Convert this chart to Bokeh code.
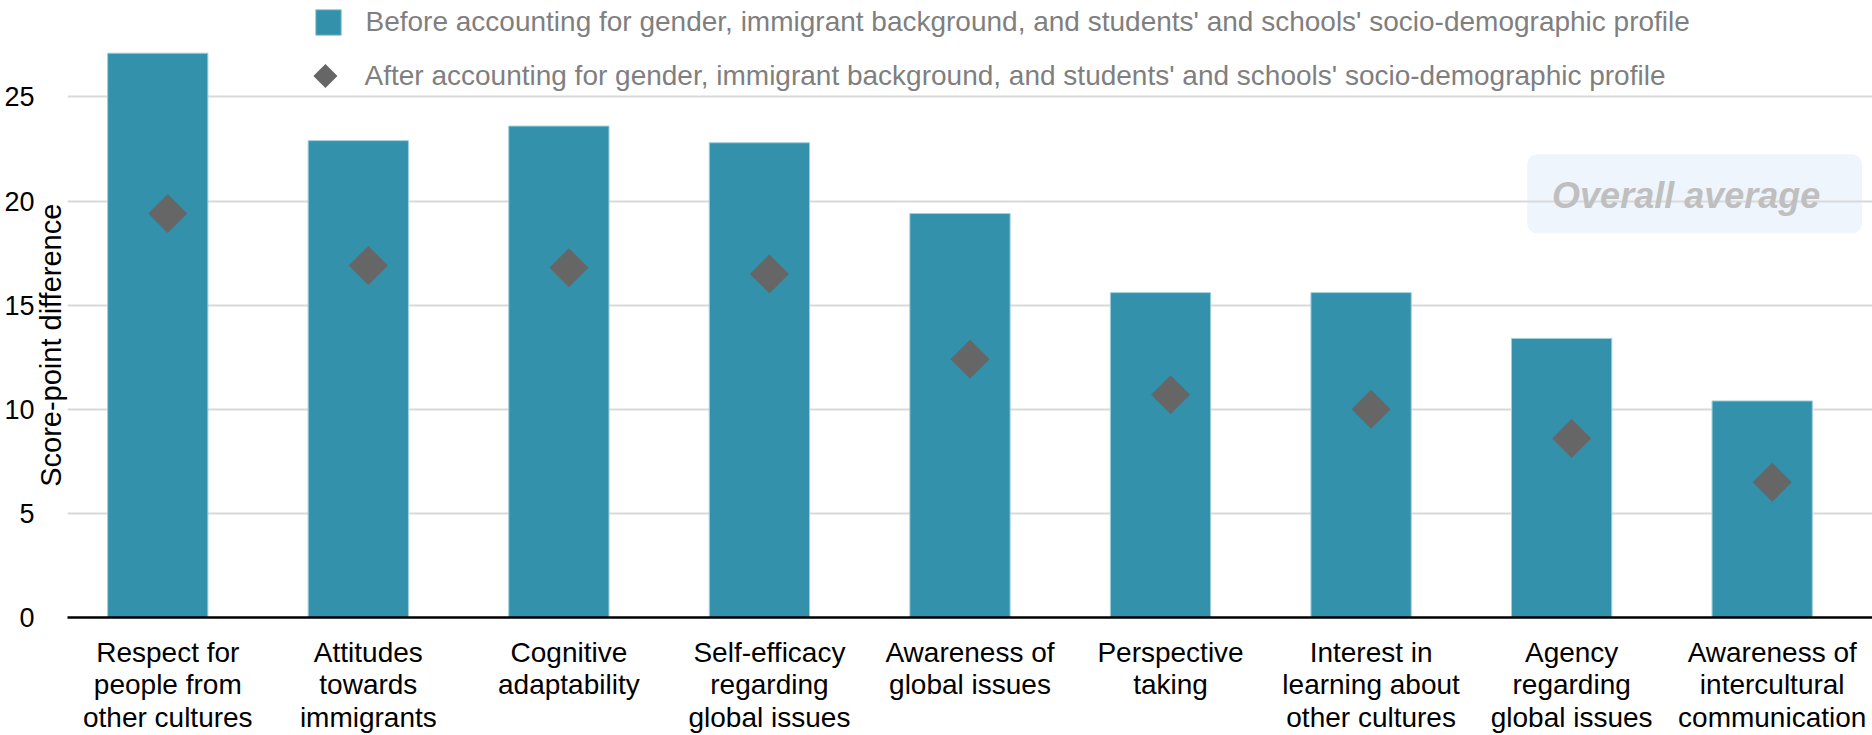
import math
from bokeh.plotting import figure
from bokeh.models import (FactorRange, Range1d, FixedTicker, Legend, LegendItem,
                          Label, BoxAnnotation, ColumnDataSource)
from bokeh.transform import dodge
from bokeh.embed import file_html
from bokeh.resources import INLINE

categories = [
    "Respect for\npeople from\nother cultures",
    "Attitudes\ntowards\nimmigrants",
    "Cognitive\nadaptability",
    "Self-efficacy\nregarding\nglobal issues",
    "Awareness of\nglobal issues",
    "Perspective\ntaking",
    "Interest in\nlearning about\nother cultures",
    "Agency\nregarding\nglobal issues",
    "Awareness of\nintercultural\ncommunication",
]
before = [27.1, 22.9, 23.6, 22.8, 19.4, 15.6, 15.6, 13.4, 10.4]
after = [19.4, 16.9, 16.8, 16.5, 12.4, 10.7, 10.0, 8.6, 6.5]
y_ticks = [0, 5, 10, 15, 20, 25, 30]
y_title = "Score-point difference"
label_before = "Before accounting for gender, immigrant background, and students' and schools' socio-demographic profile"
label_after = "After accounting for gender, immigrant background, and students' and schools' socio-demographic profile"

FONT = "Liberation Sans"
BAR = "#3391AB"
DIAM = "#666666"

src = ColumnDataSource(dict(cat=categories, before=before, after=after))

p = figure(x_range=FactorRange(factors=categories, range_padding=0),
           y_range=Range1d(0, 29.63),
           width=1872, height=735, output_backend="svg", toolbar_location=None,
           min_border_left=67, min_border_right=0, min_border_top=0, min_border_bottom=118)
p.outline_line_color = None
p.background_fill_color = "white"

p.xgrid.grid_line_color = None
p.ygrid.ticker = FixedTicker(ticks=y_ticks)
p.ygrid.grid_line_color = "#d9d9d9"
p.ygrid.grid_line_width = 2

p.yaxis.ticker = FixedTicker(ticks=y_ticks)
p.yaxis.axis_line_color = None
p.yaxis.major_tick_line_color = None
p.yaxis.minor_tick_line_color = None
p.yaxis.major_label_standoff = 27
p.yaxis.major_label_text_font = FONT
p.yaxis.major_label_text_font_size = "27px"
p.yaxis.major_label_text_color = "black"
# trailing no-break spaces shift the centred title towards the bottom, as in the original
p.yaxis.axis_label = y_title + "\u00a0" * 9
p.yaxis.axis_label_text_font = FONT
p.yaxis.axis_label_text_font_size = "29px"
p.yaxis.axis_label_text_font_style = "normal"
p.yaxis.axis_label_text_color = "black"
p.yaxis.axis_label_standoff = -66

p.xaxis.axis_line_color = "black"
p.xaxis.axis_line_width = 2.5
p.xaxis.major_tick_line_color = None
p.xaxis.minor_tick_line_color = None
p.xaxis.major_label_standoff = 13
p.xaxis.major_label_text_font = FONT
p.xaxis.major_label_text_font_size = "28px"
p.xaxis.major_label_text_color = "black"
p.xaxis.major_label_text_line_height = 1.05

# Overall average box
box = BoxAnnotation(left=7.278, right=8.948, bottom=18.45, top=22.25,
                    fill_color="#eef5fc", fill_alpha=1.0, line_color=None,
                    border_radius=10, level="image")
p.add_layout(box)

bars = p.vbar(x=dodge("cat", -0.05, range=p.x_range), top="before", width=0.5,
              source=src, fill_color=BAR, line_color="#9fcfdc", line_width=1)
pts = p.scatter(x="cat", y="after", source=src, marker="square", angle=math.pi / 4,
                size=27.6, fill_color=DIAM, line_color=None)

# legend symbol for the rotated-square series (Bokeh legends do not rotate markers)
p.scatter(x=[1.286], y=[26.0], marker="square", angle=math.pi / 4, size=17,
          fill_color=DIAM, line_color=None)

p.add_layout(Label(x=8.071, y=20.26, text="Overall average", text_align="center",
                   text_baseline="middle", text_font=FONT, text_font_size="36px",
                   text_font_style="bold italic", text_color="#bfbfbf"))

common = dict(padding=0, margin=0, spacing=0, border_line_color=None,
              background_fill_alpha=0, label_text_font=FONT, label_text_font_size="28px",
              label_text_color="#7f7f7f")
leg1 = Legend(items=[LegendItem(label=label_before, renderers=[bars])],
              location=(244.5, 579.5), glyph_width=32, glyph_height=32, label_height=32,
              label_standoff=22, **common)
leg2 = Legend(items=[LegendItem(label=label_after, renderers=[pts])],
              location=(257.5, 520.5), glyph_width=1, glyph_height=42, label_height=42,
              label_standoff=39, **common)
p.add_layout(leg1)
p.add_layout(leg2)

open("out.html", "w").write(file_html(p, INLINE))
